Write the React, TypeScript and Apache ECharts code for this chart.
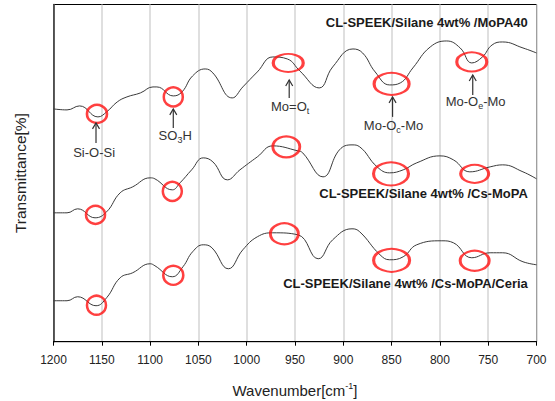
import { useEffect, useRef } from "react";
import * as echarts from "echarts";

// Curve 1: CL-SPEEK/Silane 4wt% /MoPA40 (arbitrary transmittance units, offset stack)
const wnA = [1200,1186,1173,1154,1145,1134,1124,1110,1097,1093,1076,1067,1056,1043,1035,1015,1004,989,973,958,945,925,911,890,880,867,852,841,828,810,793,779,767,756,746,735,714,700];
const tA = [233,232,236,225,230,240,245,249,255,255,246,250,266,273,269,244,255,270,285,283,271,254,275,293,289,270,257,259,274,295,301,294,279,285,297,300,294,289];

// Curve 2: CL-SPEEK/Silane 4wt% /Cs-MoPA
const wnB = [1200,1186,1175,1157,1145,1131,1118,1100,1095,1077,1069,1057,1045,1035,1020,1007,989,973,947,942,921,904,891,883,865,852,838,824,800,786,769,748,735,714,700];
const tB = [129,129,133,124,130,149,155,164,163,152,159,172,184,180,162,172,185,196,191,189,165,192,197,195,175,169,172,179,186,182,170,175,177,170,163];

// Curve 3: CL-SPEEK/Silane 4wt% /Cs-MoPA/Ceria
const wnC = [1200,1186,1175,1156,1145,1131,1118,1100,1095,1077,1066,1056,1045,1036,1019,1004,989,973,947,926,911,891,883,862,852,838,824,798,786,767,748,735,714,700];
const tC = [41,41,45,36,44,64,69,78,76,65,75,90,97,94,73,92,105,109,107,83,102,113,110,87,82,85,97,101,99,84,89,89,80,77];

const sampleNames = ["CL-SPEEK/Silane 4wt% /MoPA40", "CL-SPEEK/Silane 4wt% /Cs-MoPA", "CL-SPEEK/Silane 4wt% /Cs-MoPA/Ceria"];
const sampleVal = [319, 148, 58];
const sampleWnRight = 709;

// Marked bands (red rings) per curve
const ringWnA = [1155, 1076, 957, 850, 767];
const ringTA = [228, 245, 279, 258, 280];
const ringWnB = [1156.5, 1077, 959, 850.6, 764];
const ringTB = [127, 150.5, 195, 168, 168];
const ringWnC = [1155.5, 1076, 961, 850, 764];
const ringTC = [36.5, 66.5, 108, 81.5, 81];
const ringSizeA = [[20, 18], [19, 19], [30, 18], [35, 22], [30, 19]];
const ringSizeB = [[19, 18], [19, 19], [27, 21], [35, 23], [28, 18]];
const ringSizeC = [[19, 19], [20, 19], [28, 21], [36, 23], [29, 20]];

// Band assignments (arrows on top curve)
const annLabels = ["{a|Si-O-Si}", "{a|SO}{s|3}{a|H}", "{a|Mo=O}{s|t}", "{a|Mo-O}{s|c}{a|-Mo}", "{a|Mo-O}{s|e}{a|-Mo}"];
const annWn = [1156, 1076, 956, 849, 766];
const arrowTip = [219, 233, 262, 245, 267];
const arrowTail = [199, 214, 244, 225, 247];
const labelWn = [1158, 1074, 955, 848, 763];
const labelVal = [189, 206, 235, 216, 240];

const xTicks = [1200, 1150, 1100, 1050, 1000, 950, 900, 850, 800, 750, 700];

const FONT = "'Liberation Sans', Arial, sans-serif";

const zip = (a: number[], b: number[]) => a.map((v, i) => [v, b[i]]);

export default function App() {
  const ref = useRef<HTMLDivElement>(null);
  useEffect(() => {
    if (!ref.current) return;
    const chart = echarts.init(ref.current, null, { renderer: "svg" });
    const lineSeries = (wn: number[], t: number[]) => ({
      type: "line",
      data: zip(wn, t),
      smooth: 0.45,
      showSymbol: false,
      symbol: "none",
      lineStyle: { color: "#3a3a3a", width: 1 },
      z: 2,
    });
    const ringSeries = (wn: number[], t: number[], sz: number[][]) => ({
      type: "scatter",
      data: zip(wn, t),
      symbol: "circle",
      symbolSize: (_v: any, p: any) => sz[p.dataIndex],
      itemStyle: { color: "rgba(0,0,0,0)", borderColor: "#ff1010", borderWidth: 2.5 },
      z: 3,
    });
    chart.setOption({
      animation: false,
      backgroundColor: "#ffffff",
      grid: {
        left: 53.5,
        right: 18.5,
        top: 4.5,
        bottom: 59.3,
        show: true,
        borderColor: "#000",
        borderWidth: 1,
        outerBoundsMode: "none",
      },
      xAxis: {
        type: "value",
        inverse: true,
        min: 700,
        max: 1200,
        interval: 50,
        axisLine: { show: true, onZero: false, lineStyle: { color: "#000", width: 1 } },
        axisTick: { show: true, inside: false, length: 4, lineStyle: { color: "#000" } },
        axisLabel: {
          color: "#222",
          fontSize: 12,
          fontFamily: FONT,
          margin: 12,
          showMinLabel: true,
          showMaxLabel: true,
          formatter: (v: number) => (xTicks.includes(v) ? String(v) : ""),
        },
        splitLine: { show: true, lineStyle: { color: "#d4d4d4", width: 1.5 } },
        name: "{a|Wavenumber[cm}{p|-1}{a|]}",
        nameLocation: "middle",
        nameGap: 40,
        nameTextStyle: {
          rich: {
            a: { fontSize: 15, fontFamily: FONT, color: "#222", lineHeight: 18 },
            p: { fontSize: 9, fontFamily: FONT, color: "#222", lineHeight: 9, verticalAlign: "top" },
          },
        },
      },
      yAxis: {
        type: "value",
        min: 0,
        max: 337.5,
        axisLine: { show: true, lineStyle: { color: "#333", width: 1.5 } },
        axisTick: { show: false },
        axisLabel: { show: false },
        splitLine: { show: false },
        name: "Transmittance[%]",
        nameLocation: "middle",
        nameGap: 25,
        nameTextStyle: { fontSize: 15.5, fontFamily: FONT, color: "#222" },
      },
      series: [
        lineSeries(wnA, tA),
        lineSeries(wnB, tB),
        lineSeries(wnC, tC),
        ringSeries(ringWnA, ringTA, ringSizeA),
        ringSeries(ringWnB, ringTB, ringSizeB),
        ringSeries(ringWnC, ringTC, ringSizeC),
      ],
    });

    const px = (wn: number, v: number) => chart.convertToPixel({ gridIndex: 0 }, [wn, v]) as number[];
    const graphics: any[] = [];
    const rich = {
      a: { fontSize: 13, fontFamily: FONT, fill: "#333", lineHeight: 18 },
      s: { fontSize: 9, fontFamily: FONT, fill: "#333", lineHeight: 9, verticalAlign: "bottom" },
    };
    annWn.forEach((wn, i) => {
      const tip = px(wn, arrowTip[i]);
      const tail = px(wn, arrowTail[i]);
      graphics.push({
        type: "line",
        shape: { x1: tip[0], y1: tip[1], x2: tail[0], y2: tail[1] },
        style: { stroke: "#333", lineWidth: 1.2 },
        z: 10,
      });
      graphics.push({
        type: "polyline",
        shape: { points: [[tip[0] - 3.5, tip[1] + 6], [tip[0], tip[1]], [tip[0] + 3.5, tip[1] + 6]] },
        style: { stroke: "#333", lineWidth: 1.2, fill: "none" },
        z: 10,
      });
      const lp = px(labelWn[i], labelVal[i]);
      graphics.push({
        type: "text",
        x: lp[0],
        y: lp[1],
        style: { text: annLabels[i], rich, align: "center", verticalAlign: "middle", fill: "#333" },
        z: 10,
      });
    });
    sampleNames.forEach((name, i) => {
      const p = px(sampleWnRight, sampleVal[i]);
      graphics.push({
        type: "text",
        x: p[0],
        y: p[1],
        style: {
          text: name,
          font: `bold 13px ${FONT}`,
          fill: "#1a1a1a",
          align: "right",
          verticalAlign: "middle",
        },
        z: 10,
      });
    });
    chart.setOption({ graphic: graphics });
    return () => chart.dispose();
  }, []);
  return (
    <div
      ref={ref}
      style={{ position: "fixed", left: 0, top: 0, width: 555, height: 401, background: "#fff" }}
    />
  );
}
